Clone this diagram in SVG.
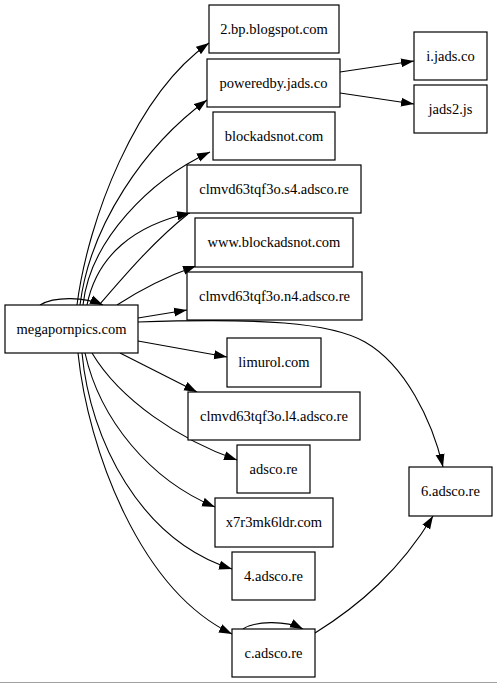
<svg xmlns="http://www.w3.org/2000/svg" width="497" height="683" viewBox="0 0 497 683">
<defs>
<style>
.n rect{fill:#fff;stroke:#000;stroke-width:1.2}
.n text{font-family:"Liberation Serif","Times New Roman",serif;font-size:14.5px;text-anchor:middle;fill:#000}
.e path{fill:none;stroke:#000;stroke-width:1.1;marker-end:url(#ah)}
.e path.nm{marker-end:none}
</style>
<marker id="ah" viewBox="0 0 13 10" markerUnits="userSpaceOnUse" markerWidth="13" markerHeight="10" refX="13" refY="5" orient="auto">
<path d="M0,0.5 L13,5 L0,9.5 z" fill="#000"/>
</marker>
</defs>
<rect x="0" y="0" width="497" height="683" fill="#fff"/>
<line x1="0" y1="682.5" x2="497" y2="682.5" stroke="#a0a0a0" stroke-width="1"/>
<g id="edges" class="e">
<path d="M77,305 C88,220 135,95 209,43"/>
<path d="M80,305 C90,225 145,145 207,100"/>
<path d="M83,305 C90,240 150,180 210,152"/>
<path d="M87,305 C97,255 135,225 190,213"/>
<path class="nm" d="M100,304 C125,275 155,240 188,214"/>
<path d="M117,305 C140,290 165,277 196,266"/>
<path d="M138,318 L187,310"/>
<path d="M138,341 L227,357"/>
<path d="M120,353 L197,392"/>
<path d="M92,353 C120,400 180,440 237,460"/>
<path d="M85,353 C100,420 150,480 215,507"/>
<path d="M82,353 C90,440 140,540 232,569"/>
<path d="M78,353 C88,450 140,590 232,634"/>
<path d="M138,322 C260,318 330,322 365,342 C405,365 432,420 443,467"/>
<path d="M40,305 C55,296 85,297 103,305"/>
<path d="M243,629 C255,621 285,620 303,629"/>
<path d="M315,633 C360,605 400,570 433,516"/>
<path d="M340,72 L414,61"/>
<path d="M340,93 L414,104"/>
</g>
<g id="n_mega" class="n"><rect x="5" y="305" width="133" height="48"/><text x="71.5" y="334">megapornpics.com</text></g>
<g id="n_2bp" class="n"><rect x="209" y="5" width="130" height="48"/><text x="274" y="34">2.bp.blogspot.com</text></g>
<g id="n_powered" class="n"><rect x="207" y="59" width="133" height="48"/><text x="273.5" y="88">poweredby.jads.co</text></g>
<g id="n_blockadsnot" class="n"><rect x="213" y="112" width="122" height="48"/><text x="274" y="141">blockadsnot.com</text></g>
<g id="n_s4" class="n"><rect x="187" y="165" width="174" height="48"/><text x="274" y="194">clmvd63tqf3o.s4.adsco.re</text></g>
<g id="n_www" class="n"><rect x="195" y="218" width="158" height="49"/><text x="274" y="247">www.blockadsnot.com</text></g>
<g id="n_n4" class="n"><rect x="187" y="272" width="175" height="48"/><text x="274.5" y="301">clmvd63tqf3o.n4.adsco.re</text></g>
<g id="n_limurol" class="n"><rect x="227" y="338" width="94" height="49"/><text x="274" y="367">limurol.com</text></g>
<g id="n_l4" class="n"><rect x="188" y="392" width="172" height="48"/><text x="274" y="421">clmvd63tqf3o.l4.adsco.re</text></g>
<g id="n_adsco" class="n"><rect x="237" y="445" width="73" height="48"/><text x="273.5" y="474">adsco.re</text></g>
<g id="n_x7r3" class="n"><rect x="215" y="498" width="118" height="49"/><text x="274" y="527">x7r3mk6ldr.com</text></g>
<g id="n_4adsco" class="n"><rect x="232" y="552" width="83" height="48"/><text x="273.5" y="581">4.adsco.re</text></g>
<g id="n_cadsco" class="n"><rect x="232" y="629" width="83" height="48"/><text x="273.5" y="658">c.adsco.re</text></g>
<g id="n_6adsco" class="n"><rect x="409" y="467" width="83" height="49"/><text x="450.5" y="496">6.adsco.re</text></g>
<g id="n_ijads" class="n"><rect x="414" y="32" width="73" height="48"/><text x="450.5" y="61">i.jads.co</text></g>
<g id="n_jads2" class="n"><rect x="414" y="85" width="73" height="48"/><text x="450.5" y="114">jads2.js</text></g>
</svg>
